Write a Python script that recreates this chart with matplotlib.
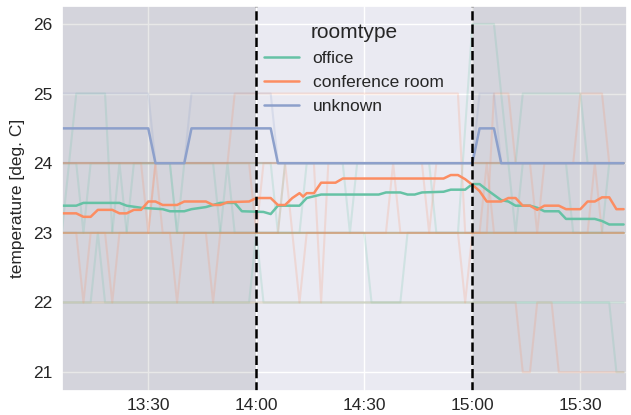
import matplotlib
matplotlib.use('Agg')
import matplotlib.pyplot as plt
import matplotlib.dates as mdates
import seaborn as sns
import pandas as pd

# mean temperature per roomtype (time, value)
office_mean = [("13:06", 23.39), ("13:10", 23.39), ("13:12", 23.43), ("13:22", 23.43), ("13:24", 23.39),
               ("13:28", 23.36), ("13:34", 23.34), ("13:36", 23.31), ("13:40", 23.31), ("13:42", 23.34),
               ("13:46", 23.37), ("13:50", 23.43), ("13:54", 23.43), ("13:56", 23.31), ("14:02", 23.30),
               ("14:04", 23.27), ("14:06", 23.39), ("14:12", 23.39), ("14:14", 23.50), ("14:18", 23.55),
               ("14:34", 23.55), ("14:36", 23.58), ("14:40", 23.58), ("14:42", 23.55), ("14:44", 23.55),
               ("14:46", 23.58), ("14:52", 23.59), ("14:54", 23.62), ("14:58", 23.62), ("15:00", 23.70),
               ("15:02", 23.70), ("15:04", 23.62), ("15:08", 23.47), ("15:10", 23.45), ("15:12", 23.39),
               ("15:16", 23.39), ("15:18", 23.36), ("15:20", 23.31), ("15:24", 23.31), ("15:26", 23.20),
               ("15:34", 23.20), ("15:36", 23.17), ("15:38", 23.12), ("15:42", 23.12)]
conference_mean = [("13:06", 23.28), ("13:10", 23.28), ("13:12", 23.23), ("13:14", 23.23), ("13:16", 23.33),
                   ("13:20", 23.33), ("13:22", 23.28), ("13:24", 23.28), ("13:26", 23.33), ("13:28", 23.33),
                   ("13:30", 23.45), ("13:32", 23.45), ("13:34", 23.40), ("13:38", 23.40), ("13:40", 23.45),
                   ("13:46", 23.45), ("13:48", 23.40), ("13:50", 23.40), ("13:52", 23.44), ("13:58", 23.45),
                   ("14:00", 23.50), ("14:04", 23.50), ("14:06", 23.40), ("14:08", 23.40), ("14:10", 23.50),
                   ("14:12", 23.57), ("14:13", 23.52), ("14:14", 23.57), ("14:16", 23.57), ("14:18", 23.72),
                   ("14:22", 23.72), ("14:24", 23.78), ("14:52", 23.78), ("14:54", 23.83), ("14:56", 23.83),
                   ("14:58", 23.77), ("15:00", 23.69), ("15:02", 23.60), ("15:04", 23.45), ("15:08", 23.45),
                   ("15:10", 23.50), ("15:12", 23.50), ("15:14", 23.39), ("15:16", 23.39), ("15:18", 23.33),
                   ("15:20", 23.39), ("15:24", 23.39), ("15:26", 23.34), ("15:30", 23.34), ("15:32", 23.45),
                   ("15:34", 23.45), ("15:36", 23.51), ("15:38", 23.51), ("15:40", 23.34), ("15:42", 23.34)]
unknown_mean = [("13:06", 24.5), ("13:30", 24.5), ("13:32", 24.0), ("13:40", 24.0), ("13:42", 24.5),
                ("14:04", 24.5), ("14:06", 24.0), ("15:00", 24.0), ("15:02", 24.5), ("15:06", 24.5),
                ("15:08", 24.0), ("15:42", 24.0)]

# individual rooms (faint lines)
office_rooms = [
    [("13:06", 24), ("15:42", 24)],
    [("13:06", 23), ("15:42", 23)],
    [("13:06", 23), ("15:42", 23)],
    [("13:06", 22), ("15:38", 22), ("15:40", 21), ("15:42", 21)],
    [("13:06", 23), ("14:30", 23), ("14:32", 22), ("14:40", 22), ("14:42", 23), ("15:42", 23)],
    [("13:06", 23), ("13:10", 25), ("13:18", 25), ("13:20", 23), ("13:24", 23), ("13:26", 24),
     ("13:36", 24), ("13:38", 23), ("15:42", 23)],
    [("13:06", 24), ("13:48", 24), ("13:50", 23), ("14:56", 23), ("15:00", 26), ("15:06", 26),
     ("15:10", 24), ("15:42", 24)],
    [("13:06", 24), ("15:12", 24), ("15:14", 25), ("15:30", 25), ("15:32", 24), ("15:42", 24)],
    [("13:06", 24), ("13:10", 24), ("13:12", 23), ("13:14", 24), ("13:36", 24), ("13:38", 23),
     ("13:40", 24), ("14:04", 24), ("14:06", 23), ("14:08", 24), ("14:24", 24), ("14:26", 23),
     ("14:28", 24), ("15:10", 24), ("15:12", 23), ("15:14", 24), ("15:26", 24), ("15:28", 23), ("15:42", 23)],
    [("13:06", 23), ("13:20", 23), ("13:22", 24), ("13:24", 23), ("13:50", 23), ("13:52", 24),
     ("13:54", 23), ("14:12", 23), ("14:14", 24), ("14:48", 24), ("14:50", 23), ("15:36", 23),
     ("15:38", 24), ("15:42", 24)],
    [("13:06", 22), ("13:14", 22), ("13:16", 23), ("13:18", 22), ("13:58", 22), ("14:00", 23),
     ("14:02", 22), ("15:42", 22)],
]
conference_rooms = [
    [("13:06", 24), ("15:42", 24)],
    [("13:06", 24), ("15:42", 24)],
    [("13:06", 23), ("15:42", 23)],
    [("13:06", 23), ("15:42", 23)],
    [("13:06", 22), ("15:12", 22), ("15:14", 21), ("15:16", 21), ("15:18", 22), ("15:22", 22),
     ("15:24", 21), ("15:42", 21)],
    [("13:06", 24), ("13:52", 24), ("13:54", 25), ("14:56", 25), ("14:58", 23), ("15:04", 23),
     ("15:06", 25), ("15:10", 25), ("15:12", 24), ("15:28", 24), ("15:30", 25), ("15:36", 25),
     ("15:38", 24), ("15:42", 24)],
    [("13:06", 23), ("13:10", 23), ("13:12", 22), ("13:14", 23), ("13:18", 23), ("13:20", 22),
     ("13:22", 23), ("13:36", 23), ("13:38", 22), ("13:40", 23), ("13:46", 23), ("13:48", 22),
     ("13:50", 23), ("14:10", 23), ("14:12", 22), ("14:14", 23), ("14:56", 23), ("14:58", 22),
     ("15:00", 23), ("15:42", 23)],
    [("13:06", 24), ("13:28", 24), ("13:30", 23), ("13:32", 24), ("13:58", 24), ("14:00", 23),
     ("14:02", 24), ("14:16", 24), ("14:18", 22), ("14:20", 24), ("14:46", 24), ("14:48", 23),
     ("14:50", 24), ("15:16", 24), ("15:18", 23), ("15:20", 24), ("15:42", 24)],
    [("13:06", 23), ("13:30", 23), ("13:32", 24), ("13:34", 23), ("14:06", 23), ("14:08", 24),
     ("14:10", 23), ("14:36", 23), ("14:38", 24), ("14:40", 23), ("15:02", 23), ("15:04", 24),
     ("15:06", 23), ("15:32", 23), ("15:34", 24), ("15:36", 23), ("15:42", 23)],
]
unknown_rooms = [
    [("13:06", 25), ("13:30", 25), ("13:32", 24), ("13:40", 24), ("13:42", 25), ("14:04", 25),
     ("14:06", 24), ("15:00", 24), ("15:02", 25), ("15:06", 25), ("15:08", 24), ("15:42", 24)],
    [("13:06", 24), ("15:42", 24)],
]

roomtypes = ["office", "conference room", "unknown"]
colors = sns.color_palette("Set2", 3)


def to_xy(points):
    t = pd.to_datetime(["2021-01-01 " + p[0] for p in points])
    v = [p[1] for p in points]
    return t, v


sns.set_theme(style="darkgrid")
plt.rcParams['font.family'] = ['Liberation Sans', 'DejaVu Sans']
fig = plt.figure(figsize=(6.31, 4.15), dpi=100)
ax = fig.add_axes([0.098, 0.058, 0.896, 0.928])

for rooms, c in zip([office_rooms, conference_rooms, unknown_rooms], colors):
    for r in rooms:
        t, v = to_xy(r)
        ax.plot(t, v, color=c, alpha=0.2, lw=1.5)

for name, mean, c in zip(roomtypes, [office_mean, conference_mean, unknown_mean], colors):
    t, v = to_xy(mean)
    ax.plot(t, v, color=c, lw=1.8, label=name)

start = pd.Timestamp("2021-01-01 13:06")
end = pd.Timestamp("2021-01-01 15:43")
t14 = pd.Timestamp("2021-01-01 14:00")
t15 = pd.Timestamp("2021-01-01 15:00")
ax.axvspan(start, t14, color="black", alpha=0.09, lw=0)
ax.axvspan(t15, end, color="black", alpha=0.09, lw=0)
ax.axvline(t14, color="black", ls="--", lw=1.8)
ax.axvline(t15, color="black", ls="--", lw=1.8)

ax.set_xlim(start, end)
ax.set_ylim(20.73, 26.26)
ax.xaxis.set_major_locator(mdates.MinuteLocator(byminute=[0, 30]))
ax.xaxis.set_major_formatter(mdates.DateFormatter("%H:%M"))
ax.tick_params(axis='x', labelsize=12.5, length=0, pad=5)
ax.tick_params(axis='y', labelsize=12.5, length=0, pad=6.5)
ax.set_ylabel("temperature [deg. C]", fontsize=12.5, labelpad=6)

leg = ax.legend(title="roomtype", loc="upper left", bbox_to_anchor=(0.33, 0.995),
                frameon=False, fontsize=12.5, title_fontsize=15)

plt.savefig("out.png", dpi=100)
